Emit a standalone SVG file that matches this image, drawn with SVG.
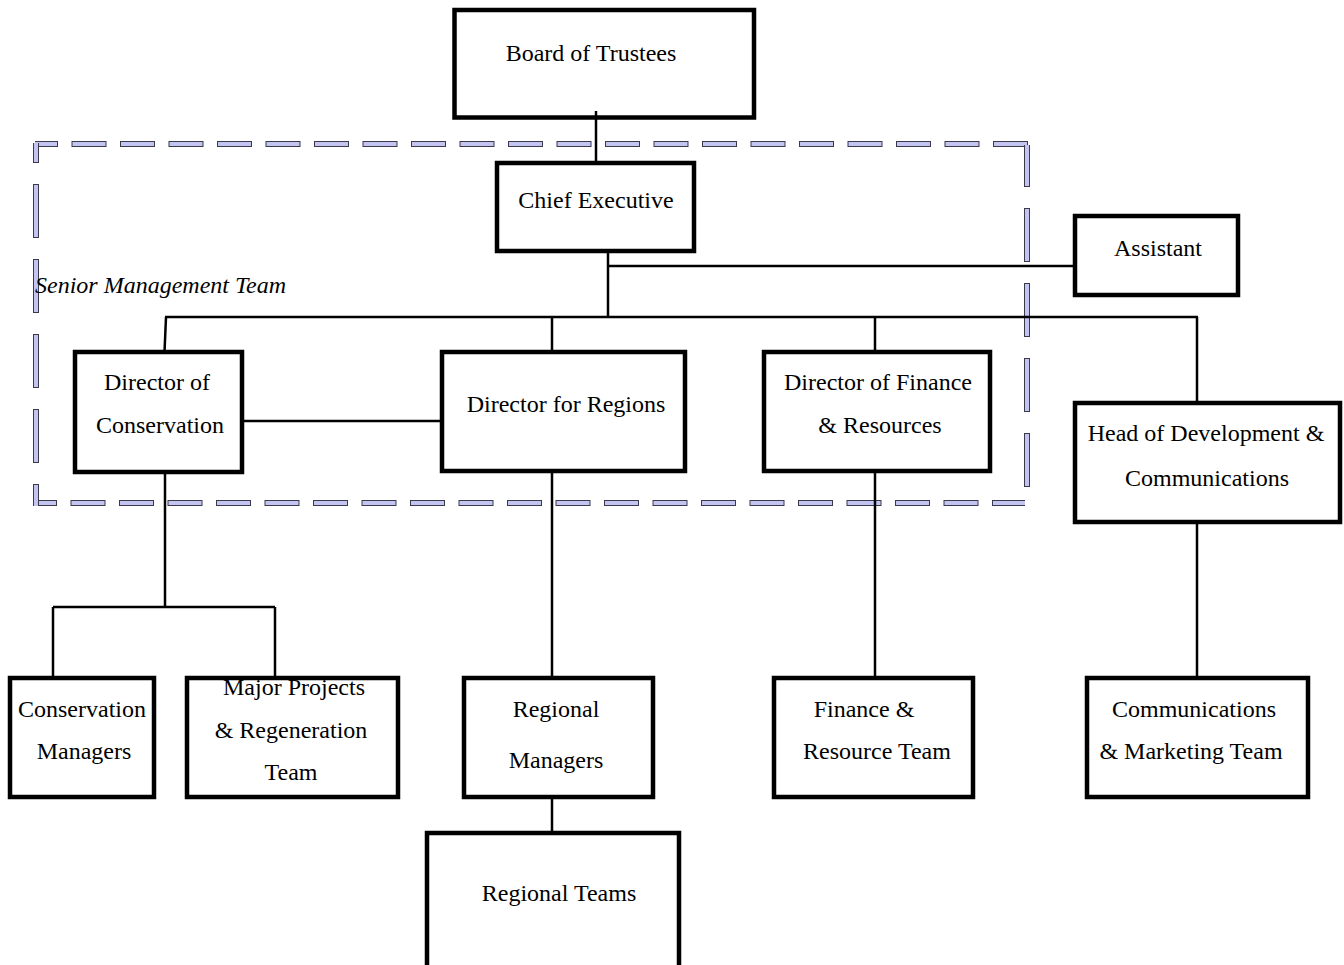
<svg xmlns="http://www.w3.org/2000/svg" width="1344" height="965" viewBox="0 0 1344 965">
<style>
.box{fill:#fff;stroke:#000;stroke-width:4.5}
.t{font-family:"Liberation Serif","Times New Roman",serif;font-size:24px;fill:#000;text-anchor:middle}
.it{font-family:"Liberation Serif","Times New Roman",serif;font-size:24px;font-style:italic;fill:#000}
.c{stroke:#000;stroke-width:2.5;fill:none}
.dO{stroke:#3a3a4a;stroke-width:6;fill:none}
.dI{stroke:#c4c4f2;stroke-width:4;fill:none}
</style>
<rect width="1344" height="965" fill="#fff"/>
<g id="smt-border">
<line class="dO" x1="35" y1="144" x2="1029" y2="144" stroke-dasharray="35 13.5" stroke-dashoffset="12"/>
<line class="dI" x1="35" y1="144" x2="1029" y2="144" stroke-dasharray="33 15.5" stroke-dashoffset="11"/>
<line class="dO" x1="34" y1="503" x2="1025" y2="503" stroke-dasharray="35 13.5" stroke-dashoffset="12"/>
<line class="dI" x1="34" y1="503" x2="1025" y2="503" stroke-dasharray="33 15.5" stroke-dashoffset="11"/>
<line class="dO" x1="36" y1="143" x2="36" y2="506" stroke-dasharray="54 21" stroke-dashoffset="34"/>
<line class="dI" x1="36" y1="143" x2="36" y2="506" stroke-dasharray="52 23" stroke-dashoffset="33"/>
<line class="dO" x1="1027" y1="145" x2="1027" y2="488" stroke-dasharray="54 21" stroke-dashoffset="12"/>
<line class="dI" x1="1027" y1="145" x2="1027" y2="488" stroke-dasharray="52 23" stroke-dashoffset="11"/>
<text class="it" x="35" y="293">Senior Management Team</text>
</g>
<g id="board"><rect class="box" x="454.5" y="10" width="299.5" height="107.5"/><text class="t" x="591" y="61">Board of Trustees</text></g>
<g id="chief"><rect class="box" x="497" y="163" width="197" height="88"/><text class="t" x="596" y="208">Chief Executive</text></g>
<g id="assistant"><rect class="box" x="1075" y="216" width="163" height="79"/><text class="t" x="1158" y="256">Assistant</text></g>
<g id="dir-conservation"><rect class="box" x="75" y="352" width="167" height="120"/><text class="t" x="157" y="390">Director of</text><text class="t" x="160" y="433">Conservation</text></g>
<g id="dir-regions"><rect class="box" x="442" y="352" width="243" height="119"/><text class="t" x="566" y="412">Director for Regions</text></g>
<g id="dir-finance"><rect class="box" x="764" y="352" width="226" height="119"/><text class="t" x="878" y="390">Director of Finance</text><text class="t" x="880" y="433">&amp; Resources</text></g>
<g id="head-dev"><rect class="box" x="1075" y="403" width="265" height="119"/><text class="t" x="1206" y="441">Head of Development &amp;</text><text class="t" x="1207" y="486">Communications</text></g>
<g id="conservation-managers"><rect class="box" x="10" y="678" width="144" height="119"/><text class="t" x="82" y="717">Conservation</text><text class="t" x="84" y="759">Managers</text></g>
<g id="major-projects"><rect class="box" x="187" y="678" width="211" height="119"/><text class="t" x="294" y="695">Major Projects</text><text class="t" x="291" y="738">&amp; Regeneration</text><text class="t" x="291" y="780">Team</text></g>
<g id="regional-managers"><rect class="box" x="464" y="678" width="189" height="119"/><text class="t" x="556" y="717">Regional</text><text class="t" x="556" y="768">Managers</text></g>
<g id="finance-team"><rect class="box" x="774" y="678" width="199" height="119"/><text class="t" x="864" y="717">Finance &amp;</text><text class="t" x="877" y="759">Resource Team</text></g>
<g id="comms-team"><rect class="box" x="1087" y="678" width="221" height="119"/><text class="t" x="1194" y="717">Communications</text><text class="t" x="1191" y="759">&amp; Marketing Team</text></g>
<g id="regional-teams"><rect class="box" x="427" y="833" width="252" height="140"/><text class="t" x="559" y="901">Regional Teams</text></g>
<g id="connectors">
<line class="c" x1="596" y1="111" x2="596" y2="163"/>
<line class="c" x1="608" y1="251" x2="608" y2="317"/>
<line class="c" x1="608" y1="266" x2="1075" y2="266"/>
<line class="c" x1="165" y1="317" x2="1198" y2="317"/>
<line class="c" x1="166" y1="317" x2="164.5" y2="352"/>
<line class="c" x1="552" y1="317" x2="552" y2="352"/>
<line class="c" x1="875" y1="317" x2="875" y2="352"/>
<line class="c" x1="1197" y1="317" x2="1197" y2="403"/>
<line class="c" x1="242" y1="421" x2="442" y2="421"/>
<line class="c" x1="165" y1="472" x2="165" y2="607"/>
<line class="c" x1="53" y1="607" x2="275" y2="607"/>
<line class="c" x1="53" y1="607" x2="53" y2="678"/>
<line class="c" x1="275" y1="607" x2="275" y2="678"/>
<line class="c" x1="552" y1="471" x2="552" y2="678"/>
<line class="c" x1="552" y1="797" x2="552" y2="833"/>
<line class="c" x1="875" y1="471" x2="875" y2="678"/>
<line class="c" x1="1197" y1="522" x2="1197" y2="678"/>
</g>
</svg>
